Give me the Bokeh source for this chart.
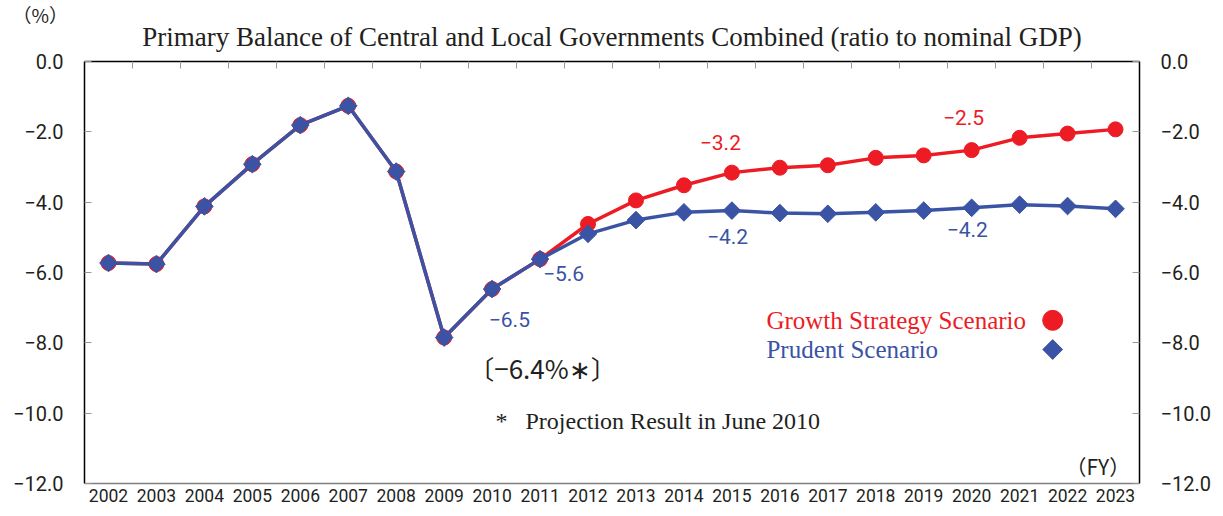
from bokeh.plotting import figure
from bokeh.models import (Range1d, LinearAxis, FixedTicker, Label, Title,
                          CustomJSTickFormatter)
from bokeh.embed import file_html
from bokeh.resources import INLINE

# ---------------- data ----------------
years = ["2002", "2003", "2004", "2005", "2006", "2007", "2008", "2009", "2010",
         "2011", "2012", "2013", "2014", "2015", "2016", "2017", "2018", "2019",
         "2020", "2021", "2022", "2023"]
growth = [-5.73, -5.76, -4.12, -2.92, -1.81, -1.26, -3.13, -7.85, -6.47, -5.62,
          -4.62, -3.95, -3.52, -3.16, -3.02, -2.95, -2.74, -2.67, -2.52, -2.17,
          -2.05, -1.93]
prudent = [-5.73, -5.76, -4.12, -2.92, -1.81, -1.26, -3.13, -7.85, -6.47, -5.62,
           -4.90, -4.51, -4.29, -4.24, -4.31, -4.33, -4.29, -4.24, -4.16, -4.07,
           -4.11, -4.19]
y_ticks = [0, -2, -4, -6, -8, -10, -12]
y_tick_labels = ["0.0", "\u22122.0", "\u22124.0", "\u22126.0", "\u22128.0",
                 "\u221210.0", "\u221212.0"]

title_text = "Primary Balance of Central and Local Governments Combined (ratio to nominal GDP)"
unit_text = "\uff08%\uff09"
series_names = ["Growth Strategy Scenario", "Prudent Scenario"]

RED = "#ED1C24"
BLUE = "#3A53A4"
GREY_TEXT = "#231F20"

# category slot positions (one unit per fiscal year, centred in its slot)
n = len(years)
xc = [i + 0.5 for i in range(n)]

# ---------------- figure ----------------
p = figure(x_range=Range1d(0, n), y_range=Range1d(-12, 0),
           frame_width=1055, frame_height=422,
           min_border_left=84, min_border_right=84,
           min_border_top=61, min_border_bottom=33,
           x_axis_location=None, y_axis_location=None,
           title=unit_text,
           output_backend="svg", toolbar_location=None)
p.outline_line_color = None
p.background_fill_color = "white"
p.border_fill_color = "white"
p.grid.visible = False

# unit label "(%)" as the outermost title, top-left
p.title.text_font = "Noto Sans CJK JP"
p.title.text_font_size = "19px"
p.title.text_font_style = "normal"
p.title.text_color = GREY_TEXT
p.title.align = "left"
p.title.offset = -72
try:
    p.title.standoff = -35
except Exception:
    p.title.standoff = 0

# bottom axis (years)
xb = LinearAxis(ticker=FixedTicker(ticks=xc),
                formatter=CustomJSTickFormatter(args=dict(yrs=years),
                                                code="return yrs[Math.floor(tick)]"),
                axis_line_color="#808080", axis_line_width=1.5,
                major_tick_line_color=None, major_tick_out=0, major_tick_in=0,
                minor_tick_line_color=None,
                major_label_standoff=5,
                major_label_text_font="Roboto",
                major_label_text_font_size="17.5px",
                major_label_text_color=GREY_TEXT)
p.add_layout(xb, "below")

# top axis (ticks at category boundaries)
xt = LinearAxis(ticker=FixedTicker(ticks=list(range(1, n))),
                formatter=CustomJSTickFormatter(code="return ''"),
                axis_line_color="black", axis_line_width=1.5,
                major_tick_line_color="#999999", major_tick_in=7, major_tick_out=0,
                minor_tick_line_color=None, major_label_standoff=0,
                major_label_text_font_size="1px")
p.add_layout(xt, "above")

# main title, between the top axis and the unit label
main_title = Title(text=title_text, align="center", text_font="Liberation Serif",
                   text_font_size="27px", text_font_style="normal",
                   text_color=GREY_TEXT, standoff=19)
p.add_layout(main_title, "above")

for side in ("left", "right"):
    ax = LinearAxis(ticker=FixedTicker(ticks=y_ticks),
                    formatter=CustomJSTickFormatter(
                        args=dict(tvals=y_ticks, tlabels=y_tick_labels),
                        code="const k = tvals.indexOf(Math.round(tick)); return k >= 0 ? tlabels[k] : '';"),
                    axis_line_color="black", axis_line_width=1.5,
                    major_tick_line_color="#999999", major_tick_in=7, major_tick_out=0,
                    minor_tick_line_color=None,
                    major_label_standoff=21,
                    major_label_text_font="Roboto",
                    major_label_text_font_size="20px",
                    major_label_text_color=GREY_TEXT)
    p.add_layout(ax, side)

# ---------------- series ----------------
p.line(xc, growth, line_color=RED, line_width=3.5)
p.scatter(xc, growth, marker="circle", size=15, fill_color=RED, line_color=RED)
p.line(xc, prudent, line_color=BLUE, line_width=3.5)
p.scatter(xc, prudent, marker="square", angle=0.785398, size=12.5,
          fill_color=BLUE, line_color=BLUE)

# ---------------- legend (label left, marker right) ----------------
leg_text_x = 14.22
leg_mark_x = 20.19
leg_y = [-7.36, -8.19]
p.add_layout(Label(x=leg_text_x, y=leg_y[0], text=series_names[0],
                   text_font="Liberation Serif", text_font_size="25px", text_color=RED,
                   text_align="left", text_baseline="middle"))
p.add_layout(Label(x=leg_text_x, y=leg_y[1], text=series_names[1],
                   text_font="Liberation Serif", text_font_size="25px", text_color=BLUE,
                   text_align="left", text_baseline="middle"))
p.scatter([leg_mark_x], [leg_y[0]], marker="circle", size=20,
          fill_color=RED, line_color=RED)
p.scatter([leg_mark_x], [leg_y[1]], marker="square",
          angle=0.785398, size=14, fill_color=BLUE, line_color=BLUE)

# ---------------- annotations ----------------
def lab(x, y, text, color, font, size, align="center"):
    p.add_layout(Label(x=x, y=y, text=text, text_font=font,
                       text_font_size=size, text_color=color, text_align=align,
                       text_baseline="middle"))

lab(13.26, -2.30, "\u22123.2", RED, "Roboto", "21px")
lab(18.33, -1.59, "\u22122.5", RED, "Roboto", "21px")
lab(13.41, -4.98, "\u22124.2", BLUE, "Roboto", "21px")
lab(18.41, -4.78, "\u22124.2", BLUE, "Roboto", "21px")
lab(9.99, -6.03, "\u22125.6", BLUE, "Roboto", "21px")
lab(8.86, -7.34, "\u22126.5", BLUE, "Roboto", "21px")
lab(9.55, -8.70, "\u3014\u22126.4%\u2217\u3015", GREY_TEXT, "Noto Sans CJK JP", "26px")
lab(8.57, -10.21, "*\u00a0\u00a0\u00a0Projection Result in June 2010", GREY_TEXT,
    "Liberation Serif", "24px", align="left")
lab(21.13, -11.49, "\uff08FY\uff09", GREY_TEXT, "Noto Sans CJK JP", "21px")

open("out.html", "w").write(file_html(p, INLINE))
